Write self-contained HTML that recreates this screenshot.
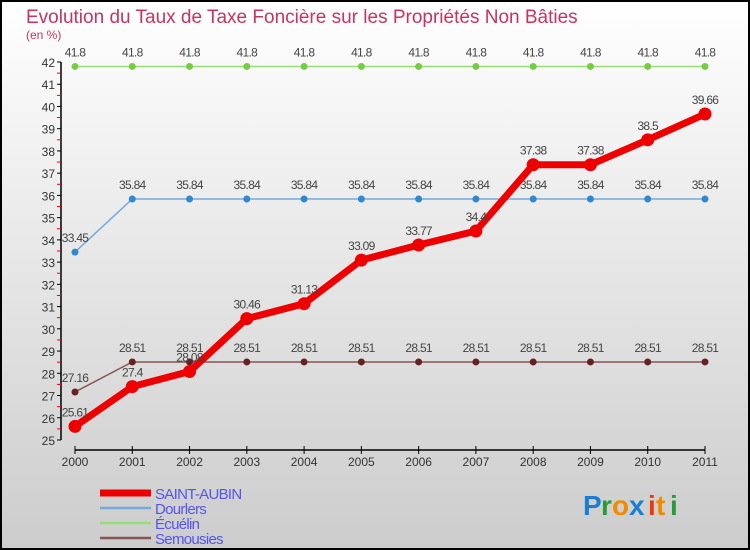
<!DOCTYPE html>
<html><head><meta charset="utf-8"><style>
body{margin:0}
#c{width:750px;height:550px;position:relative;overflow:hidden}
svg text{font-family:"Liberation Sans",sans-serif}
</style></head><body>
<div id="c">
<svg id="s" width="750" height="550" xmlns="http://www.w3.org/2000/svg">
<defs><linearGradient id="bg" x1="0" y1="0" x2="0" y2="1"><stop offset="0" stop-color="#ffffff"/><stop offset="1" stop-color="#cccccc"/></linearGradient></defs>
<rect x="0" y="0" width="750" height="550" fill="url(#bg)"/>
<rect x="1" y="1" width="748" height="548" fill="none" stroke="#000" stroke-width="2"/>
<text x="26" y="23" font-size="19" fill="#c8335f" font-weight="300">Evolution du Taux de Taxe Foncière sur les Propriétés Non Bâties</text>
<text x="26" y="39" font-size="12" fill="#c8335f">(en %)</text>
<g id="axes"></g><g id="series"></g><g id="legend"></g>
<g font-size="28" font-weight="bold" font-family="Liberation Sans,sans-serif">
<text x="583" y="515" fill="#1a7fd4">P</text><text x="601" y="515" fill="#2a9a3a">r</text><text x="612" y="515" fill="#f08a00">o</text><text x="629" y="515" fill="#1a7fd4">x</text><text x="648" y="515" fill="#e83a10">i</text><text x="656" y="515" fill="#f08a00">t</text><text x="670" y="515" fill="#2a9a3a">i</text>
</g>
</svg></div>
<script>
const years=["2000","2001","2002","2003","2004","2005","2006","2007","2008","2009","2010","2011"];
const saintAubin=[25.61,27.4,28.08,30.46,31.13,33.09,33.77,34.4,37.38,37.38,38.5,39.66];
const dourlers=[33.45,35.84,35.84,35.84,35.84,35.84,35.84,35.84,35.84,35.84,35.84,35.84];
const ecuelin=[41.8,41.8,41.8,41.8,41.8,41.8,41.8,41.8,41.8,41.8,41.8,41.8];
const semousies=[27.16,28.51,28.51,28.51,28.51,28.51,28.51,28.51,28.51,28.51,28.51,28.51];
const yTicks=[25,26,27,28,29,30,31,32,33,34,35,36,37,38,39,40,41,42];
const NS="http://www.w3.org/2000/svg";
const X=i=>75+i*(630/11);
const Y=v=>440-(v-25)*(378/17);
function mk(p,t,a){const e=document.createElementNS(NS,t);for(const k in a)e.setAttribute(k,a[k]);p.appendChild(e);return e;}
const ax=document.getElementById('axes');
const yl=mk(ax,'line',{x1:61,y1:Y(42),x2:61,y2:Y(25),stroke:'#000','stroke-width':1.5});


yTicks.forEach(v=>{
 mk(ax,'line',{x1:57,x2:61,y1:Y(v),y2:Y(v),stroke:'#000'});
 if(v<42)mk(ax,'line',{x1:57,x2:61,y1:Y(v+0.5),y2:Y(v+0.5),stroke:'#e00'});
 const t=mk(ax,'text',{x:55,y:Y(v)+5,'text-anchor':'end','font-size':12,fill:'#333'});t.textContent=v;
 
 
});
const xl=mk(ax,'line',{x1:75,x2:705,y1:450,y2:450,stroke:'#000','stroke-width':1.5});


years.forEach((y,i)=>{
 mk(ax,'line',{x1:X(i),x2:X(i),y1:446,y2:454,stroke:'#000'});
 const t=mk(ax,'text',{x:X(i),y:466,'text-anchor':'middle','font-size':12,fill:'#333'});t.textContent=y;
 
 
});
const sg=document.getElementById('series');
function draw(name,data,color,dot,w,r){
 const g=mk(sg,'g',{});
 
 
 mk(g,'polyline',{points:data.map((v,i)=>X(i)+','+Y(v)).join(' '),fill:'none',stroke:color,'stroke-width':w,'stroke-linejoin':'round'});
 data.forEach((v,i)=>{
  const c=mk(g,'circle',{cx:X(i),cy:Y(v),r:r,fill:dot});
  
  
  const t=mk(g,'text',{x:X(i),y:Y(v)-10,'text-anchor':'middle','font-size':12,fill:'#444','letter-spacing':'-0.7'});t.textContent=v;
  
  
 });
}
draw('ecuelin-series',ecuelin,'#99dd77','#77cc44',1.5,3.5);
draw('dourlers-series',dourlers,'#77aadd','#3388cc',1.5,3.5);
draw('semousies-series',semousies,'#885555','#662222',1.5,3.5);
draw('saint-aubin-series',saintAubin,'#ee0000','#ee0000',7,6.5);
const lg=document.getElementById('legend');
[['SAINT-AUBIN','#ee0000',7,493],['Dourlers','#77aadd',2.5,508],['Écuélin','#99dd77',2.5,523],['Semousies','#885555',2.5,538]].forEach(e=>{
 const g=mk(lg,'g',{});
 
 
 mk(g,'line',{x1:100,x2:151,y1:e[3],y2:e[3],stroke:e[1],'stroke-width':e[2]});
 const t=mk(g,'text',{x:155,y:e[3]+6,'font-size':15,fill:'#5555ee','letter-spacing':'-0.7'});t.textContent=e[0];
});
</script></body></html>
